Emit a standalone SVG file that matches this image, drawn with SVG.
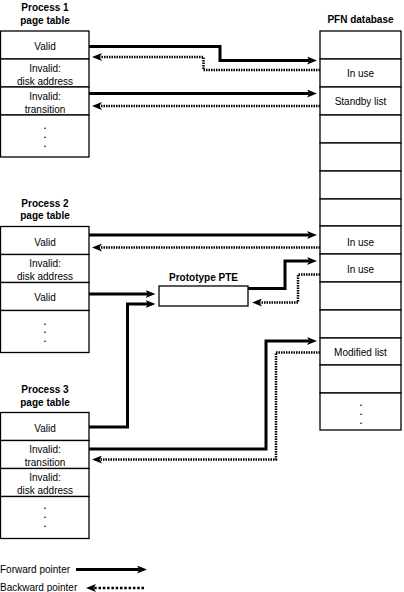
<svg xmlns="http://www.w3.org/2000/svg" width="404" height="592" viewBox="0 0 404 592">
<style>
text{font-family:"Liberation Sans",Arial,sans-serif;font-size:10px;fill:#000;text-anchor:middle;dominant-baseline:central}
.t{font-weight:bold}
.l{text-anchor:start}
.d{font-weight:bold;font-size:9px}
.cell{fill:#fff;stroke:#000;stroke-width:1.3}
.fwd{fill:none;stroke:#000;stroke-width:3;marker-end:url(#ah)}
.bwd{fill:none;stroke:#000;stroke-width:2.5;stroke-dasharray:1.5 1;marker-end:url(#ah)}
.bwdl{fill:none;stroke:#000;stroke-width:2.7;stroke-dasharray:2.5 1.8;marker-end:url(#ah)}
</style>
<defs>
<marker id="ah" markerUnits="userSpaceOnUse" markerWidth="10" markerHeight="8" viewBox="0 0 10 8" refX="2.5" refY="4" orient="auto">
<path d="M0,0 L10,4 L0,8 L2.5,4 z" fill="#000"/>
</marker>
</defs>
<rect width="404" height="592" fill="#fff"/>

<g id="process1">
<text class="t" x="45" y="7">Process 1</text>
<text class="t" x="45" y="20">page table</text>
<rect class="cell" x="0.5" y="31" width="88.5" height="28"/>
<rect class="cell" x="0.5" y="59" width="88.5" height="28"/>
<rect class="cell" x="0.5" y="87" width="88.5" height="28"/>
<rect class="cell" x="0.5" y="115" width="88.5" height="42"/>
<text x="45" y="46">Valid</text>
<text x="45" y="68.5">Invalid:</text>
<text x="45" y="81">disk address</text>
<text x="45" y="96.5">Invalid:</text>
<text x="45" y="109">transition</text>
<text class="d"><tspan x="45" y="126">.</tspan><tspan x="45" y="135">.</tspan><tspan x="45" y="144">.</tspan></text>
</g>

<g id="process2">
<text class="t" x="45" y="203">Process 2</text>
<text class="t" x="45" y="215.5">page table</text>
<rect class="cell" x="0.5" y="226.5" width="88.5" height="28"/>
<rect class="cell" x="0.5" y="254.5" width="88.5" height="28"/>
<rect class="cell" x="0.5" y="282.5" width="88.5" height="28"/>
<rect class="cell" x="0.5" y="310.5" width="88.5" height="42"/>
<text x="45" y="242">Valid</text>
<text x="45" y="263">Invalid:</text>
<text x="45" y="276">disk address</text>
<text x="45" y="297">Valid</text>
<text class="d"><tspan x="45" y="321.5">.</tspan><tspan x="45" y="330">.</tspan><tspan x="45" y="339">.</tspan></text>
</g>

<g id="process3">
<text class="t" x="45" y="389">Process 3</text>
<text class="t" x="45" y="402">page table</text>
<rect class="cell" x="0.5" y="412.5" width="88.5" height="28"/>
<rect class="cell" x="0.5" y="440.5" width="88.5" height="28"/>
<rect class="cell" x="0.5" y="468.5" width="88.5" height="28"/>
<rect class="cell" x="0.5" y="496.5" width="88.5" height="42"/>
<text x="45" y="428">Valid</text>
<text x="45" y="449">Invalid:</text>
<text x="45" y="462">transition</text>
<text x="45" y="477">Invalid:</text>
<text x="45" y="490">disk address</text>
<text class="d"><tspan x="45" y="505.5">.</tspan><tspan x="45" y="515">.</tspan><tspan x="45" y="524">.</tspan></text>
</g>

<g id="prototype-pte">
<text class="t" x="203.5" y="277.5">Prototype PTE</text>
<rect class="cell" x="159" y="286" width="89" height="20"/>
</g>

<g id="pfn-database">
<text class="t" x="360.5" y="19">PFN database</text>
<rect class="cell" x="320" y="31" width="81" height="28"/>
<rect class="cell" x="320" y="59" width="81" height="28"/>
<rect class="cell" x="320" y="87" width="81" height="28"/>
<rect class="cell" x="320" y="115" width="81" height="28"/>
<rect class="cell" x="320" y="143" width="81" height="28"/>
<rect class="cell" x="320" y="171" width="81" height="28"/>
<rect class="cell" x="320" y="199" width="81" height="27"/>
<rect class="cell" x="320" y="226" width="81" height="28"/>
<rect class="cell" x="320" y="254" width="81" height="28"/>
<rect class="cell" x="320" y="282" width="81" height="28"/>
<rect class="cell" x="320" y="310" width="81" height="28"/>
<rect class="cell" x="320" y="338" width="81" height="27"/>
<rect class="cell" x="320" y="365" width="81" height="28"/>
<rect class="cell" x="320" y="393" width="81" height="37"/>
<text x="360.5" y="73">In use</text>
<text x="360.5" y="101.5">Standby list</text>
<text x="360.5" y="242">In use</text>
<text x="360.5" y="269">In use</text>
<text x="360.5" y="352.5">Modified list</text>
<text class="d"><tspan x="361" y="403">.</tspan><tspan x="361" y="411.5">.</tspan><tspan x="361" y="420.5">.</tspan></text>
</g>

<g id="connectors">
<path class="fwd" d="M89,46.5 H220 V60.5 H309.5"/>
<path class="fwd" d="M89,93.5 H309.5"/>
<path class="fwd" d="M89,235 H309.5"/>
<path class="fwd" d="M248,288.5 H285 V261 H309.5"/>
<path class="fwd" d="M89,294 H148"/>
<path class="fwd" d="M89,427 H127.5 V304 H148"/>
<path class="fwd" d="M89,449 H266 V341 H309.5"/>
<path class="bwd" d="M320,70 H203.5 V57 H99.5"/>
<path class="bwd" d="M320,106 H99.5"/>
<path class="bwd" d="M320,247.5 H99.5"/>
<path class="bwd" d="M320,274.5 H298 V302.5 H259.5"/>
<path class="bwd" d="M320,352.5 H276 V459.5 H99.5"/>
</g>

<g id="legend">
<text class="l" x="0" y="569">Forward pointer</text>
<text class="l" x="0" y="587">Backward pointer</text>
<path class="fwd" d="M76,569.5 H139.5"/>
<path class="bwdl" d="M144,588 H93.5"/>
</g>
</svg>
